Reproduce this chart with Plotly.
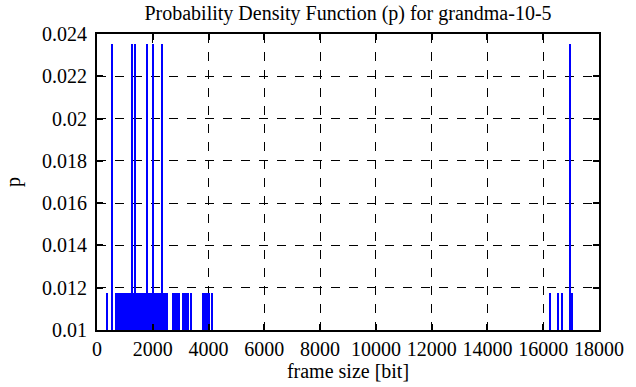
import plotly.graph_objects as go

# Frame sizes (bits) observed and how many times each occurred
frame_sizes = [
    382, 539,
    700, 735, 770, 805, 840, 875, 910, 945, 980, 1015, 1045,
    1115, 1150, 1185, 1220, 1271, 1310, 1372,
    1410, 1445, 1480, 1515, 1550, 1585, 1620, 1655, 1690, 1725, 1760,
    1795, 1807, 1830, 1865, 1900, 1935, 1970, 2004, 2040, 2075,
    2170, 2205, 2240, 2275, 2300, 2328, 2365, 2400,
    2490, 2520,
    2720, 2755, 2790, 2825, 2860, 2895, 2930,
    3100, 3135, 3170, 3205, 3240, 3280,
    3388,
    3800, 3835, 3870, 3905, 3940, 3975, 4010,
    4117,
    16263, 16541, 16663, 16975, 17050,
]
frame_counts = [
    1, 2,
    1, 1, 1, 1, 1, 1, 1, 1, 1, 1, 1,
    1, 1, 1, 1, 2, 1, 2,
    1, 1, 1, 1, 1, 1, 1, 1, 1, 1, 1,
    1, 2, 1, 1, 1, 1, 1, 2, 1, 1,
    1, 1, 1, 1, 1, 2, 1, 1,
    1, 1,
    1, 1, 1, 1, 1, 1, 1,
    1, 1, 1, 1, 1, 1,
    1,
    1, 1, 1, 1, 1, 1, 1,
    1,
    1, 1, 1, 2, 1,
]
total_frames = sum(frame_counts)
probabilities = [c / total_frames for c in frame_counts]

x_tick_vals = [0, 2000, 4000, 6000, 8000, 10000, 12000, 14000, 16000, 18000]
x_tick_text = ["0", "2000", "4000", "6000", "8000", "10000", "12000", "14000", "16000", "18000"]
y_tick_vals = [0.01, 0.012, 0.014, 0.016, 0.018, 0.02, 0.022, 0.024]
y_tick_text = ["0.01", "0.012", "0.014", "0.016", "0.018", "0.02", "0.022", "0.024"]

FONT = "Liberation Serif"
FS = 20

fig = go.Figure()
fig.add_trace(go.Bar(
    x=frame_sizes,
    y=probabilities,
    width=48,
    marker=dict(color="#0000ff", line=dict(width=0)),
    showlegend=False,
))

axis_common = dict(
    showline=True, linecolor="black", linewidth=2, mirror="ticks",
    ticks="inside", ticklen=6, tickwidth=2, tickcolor="black",
    showgrid=True, gridcolor="black", gridwidth=1, griddash="dash",
    zeroline=False,
    tickfont=dict(family=FONT, size=FS, color="black"),
)

fig.update_layout(
    width=636, height=387,
    margin=dict(l=92, r=28, t=34, b=57),
    plot_bgcolor="white", paper_bgcolor="white",
    font=dict(family=FONT, size=FS, color="black"),
    title=dict(text="Probability Density Function (p) for grandma-10-5",
               xref="paper", x=0.5, xanchor="center",
               yref="container", y=0.984, yanchor="top",
               pad=dict(t=0, b=0),
               font=dict(family=FONT, size=FS, color="black")),
    bargap=0,
)
fig.update_xaxes(range=[0, 18000], tickvals=x_tick_vals, ticktext=x_tick_text,
                 ticklabelstandoff=0,
                 title=dict(text="frame size [bit]", standoff=1,
                            font=dict(family=FONT, size=FS)),
                 **axis_common)
fig.update_yaxes(range=[0.01, 0.024], tickvals=y_tick_vals, ticktext=y_tick_text,
                 ticklabelstandoff=4,
                 title=dict(text="p", standoff=16, font=dict(family=FONT, size=FS)),
                 **axis_common)

fig.write_html("out.html", config={"displayModeBar": False},
               post_script="document.body.style.margin='0';")
